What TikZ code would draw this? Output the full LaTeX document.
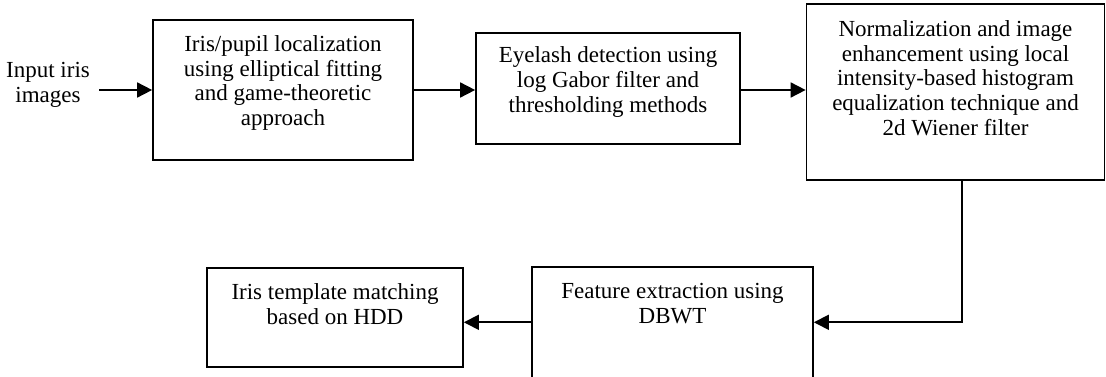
\documentclass[tikz,border=0pt]{standalone}
\usepackage{fontspec}
\setmainfont{Liberation Serif}
\usetikzlibrary{arrows.meta}
\begin{document}
\begin{tikzpicture}[x=1pt,y=-1pt,
  stagebox/.style={draw=black,line width=1.7pt,rectangle,inner sep=0pt},
  lbl/.style={align=center,font=\fontsize{23pt}{24.8pt}\selectfont,inner sep=0pt},
  arr/.style={line width=1.7pt,-{Triangle[length=15pt,width=15pt]}},
  conn/.style={line width=1.7pt}]
\useasboundingbox (0,0) rectangle (1106,377);
% boxes
\node[stagebox,minimum width=260pt,minimum height=140pt] (b1) at (283,90) {};
\node[stagebox,minimum width=264pt,minimum height=111pt] (b2) at (608,88.5) {};
\node[stagebox,minimum width=298pt,minimum height=176pt] (b3) at (955.5,92) {};
\node[stagebox,minimum width=256pt,minimum height=99pt] (b4) at (335,317.5) {};
\node[stagebox,minimum width=281pt,minimum height=110.5pt] (b5) at (672.5,322.3) {};
% texts
\node[lbl] (tin) at (48,85) {Input iris\\images};
\node[lbl] (t1) at ([yshift=7pt]b1.center) {Iris/pupil localization\\using elliptical fitting\\and game-theoretic\\approach};
\node[lbl] (t2) at ([yshift=6.5pt]b2.center) {Eyelash detection using\\log Gabor filter and\\thresholding methods};
\node[lbl] (t3) at ([yshift=14pt]b3.center) {Normalization and image\\enhancement using local\\intensity-based histogram\\equalization technique and\\2d Wiener filter};
\node[lbl] (t4) at ([yshift=13pt]b4.center) {Iris template matching\\based on HDD};
\node[lbl] (t5) at ([yshift=18.5pt]b5.center) {Feature extraction using\\DBWT};
% connectors
\coordinate (a0) at (99,90);
\coordinate (d0) at ([xshift=6.5pt]b3.south);
\draw[arr] (a0) -- (a0 -| b1.west);
\draw[arr] (b1.east |- a0) -- (b2.west |- a0);
\draw[arr] (b2.east |- a0) -- (b3.west |- a0);
\draw[arr] (d0) |- (b5.east);
\draw[arr] (b5.west) -- (b5.west -| b4.east);
\end{tikzpicture}
\end{document}
